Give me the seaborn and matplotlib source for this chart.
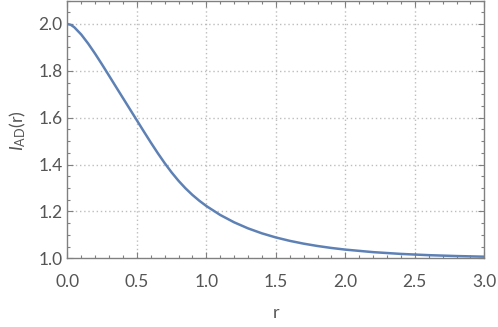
import numpy as np
import pandas as pd
import matplotlib
matplotlib.use("Agg")
import matplotlib.pyplot as plt
import seaborn as sns
from matplotlib.ticker import MultipleLocator

# values
r_values = [0.0, 0.025, 0.05, 0.1, 0.15, 0.2, 0.25, 0.3, 0.35, 0.4, 0.45, 0.5,
            0.55, 0.6, 0.65, 0.7, 0.75, 0.8, 0.85, 0.9, 0.95, 1.0, 1.1, 1.2,
            1.3, 1.4, 1.5, 1.6, 1.7, 1.8, 1.9, 2.0, 2.2, 2.4, 2.6, 2.8, 3.0]
i_values = [2.0000, 1.9963, 1.9860, 1.9550, 1.9163, 1.8730, 1.8270, 1.7795,
            1.7317, 1.6842, 1.6367, 1.5892, 1.5416, 1.4948, 1.4495, 1.4066,
            1.3668, 1.3308, 1.2988, 1.2705, 1.2455, 1.2232, 1.1850, 1.1536,
            1.1278, 1.1065, 1.0890, 1.0745, 1.0625, 1.0525, 1.0441, 1.0371,
            1.0263, 1.0187, 1.0134, 1.0096, 1.0069]
x_ticks = [0.0, 0.5, 1.0, 1.5, 2.0, 2.5, 3.0]
y_ticks = [1.0, 1.2, 1.4, 1.6, 1.8, 2.0]

df = pd.DataFrame({"r": r_values, "I": i_values})

sns.set_theme(style="white")
FONT = "Lato"
plt.rcParams["font.family"] = [FONT, "DejaVu Sans"]
plt.rcParams["mathtext.fontset"] = "custom"
plt.rcParams["mathtext.rm"] = FONT
plt.rcParams["mathtext.it"] = FONT + ":italic"

TXT = "#555555"
SP = "#808080"

fig = plt.figure(figsize=(4.98, 3.27), dpi=100)
ax = fig.add_axes([67.3 / 498, 1 - 258.3 / 327, (484.3 - 67.3) / 498, (258.3 - 0.5) / 327])

sns.lineplot(data=df, x="r", y="I", ax=ax, color="#5E81B5", linewidth=1.8)

ax.set_xlim(0, 3)
ax.set_ylim(1.0, 2.1)
ax.set_xticks(x_ticks)
ax.set_yticks(y_ticks)
ax.set_xticklabels([f"{v:.1f}" for v in x_ticks])
ax.set_yticklabels([f"{v:.1f}" for v in y_ticks])
ax.xaxis.set_minor_locator(MultipleLocator(0.1))
ax.yaxis.set_minor_locator(MultipleLocator(0.05))

for s in ax.spines.values():
    s.set_color(SP)
    s.set_linewidth(1.0)
    s.set_visible(True)

ax.tick_params(which="both", direction="in", top=True, right=True, bottom=True, left=True,
               color=SP, width=0.8)
ax.tick_params(which="major", length=4.5, labelsize=12.5, labelcolor=TXT)
ax.tick_params(which="minor", length=2.5)
ax.tick_params(axis="x", which="major", pad=11)
ax.tick_params(axis="y", which="major", pad=3.5)

# dotted grid, not at frame edges
for xv in [0.5, 1.0, 1.5, 2.0, 2.5]:
    ax.axvline(xv, color="#bdbdbd", linestyle=(0, (1, 2)), linewidth=1.0, zorder=0)
for yv in [1.2, 1.4, 1.6, 1.8, 2.0]:
    ax.axhline(yv, color="#bdbdbd", linestyle=(0, (1, 2)), linewidth=1.0, zorder=0)

ax.set_xlabel("r", fontsize=13, color=TXT)
ax.set_ylabel(r"$\mathit{I}_{\mathrm{AD}}(\mathrm{r})$", fontsize=13, color=TXT)
ax.xaxis.set_label_coords(0.5, -0.18)
ax.yaxis.set_label_coords(-0.094, 0.494)

fig.savefig("out.png", dpi=100)
